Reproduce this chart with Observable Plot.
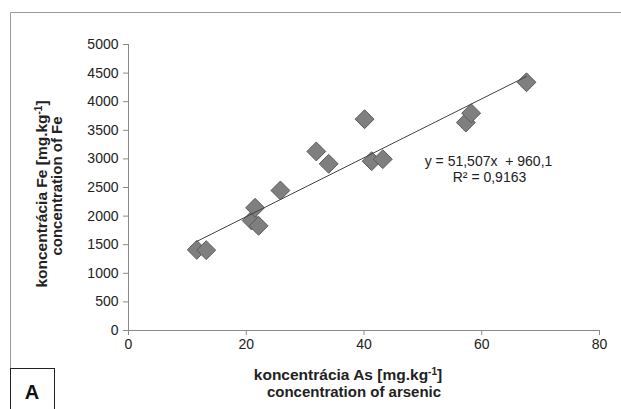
<!DOCTYPE html>
<html>
<head>
<meta charset="utf-8">
<script src="https://cdn.jsdelivr.net/npm/d3@7"></script>
<script src="https://cdn.jsdelivr.net/npm/@observablehq/plot@0.6"></script>
<style>
  html, body { margin: 0; padding: 0; background: #fff; }
  #chart { width: 621px; height: 409px; }
  svg { font-family: "Liberation Sans Narrow", "Arial Narrow", "Liberation Sans", Arial, sans-serif; }
</style>
</head>
<body>
<div id="chart"></div>
<script>
// Data
const arsenic = [11.6, 13.2, 20.9, 21.5, 22.1, 25.8, 31.9, 34.0, 40.1, 41.3, 43.2, 57.3, 58.2, 67.6];
const iron    = [1410, 1405, 1923, 2145, 1830, 2448, 3130, 2914, 3694, 2960, 2995, 3636, 3800, 4340];
const slope = 51.507;
const intercept = 960.1;
const xTicks = [0, 20, 40, 60, 80];
const yTicks = [0, 500, 1000, 1500, 2000, 2500, 3000, 3500, 4000, 4500, 5000];
const equationText = "y = 51,507x  + 960,1";
const r2Text = "R² = 0,9163";

const points = arsenic.map((a, i) => ({as: a, fe: iron[i]}));
const xMin = d3.min(arsenic), xMax = d3.max(arsenic);
const trend = [xMin, xMax].map(x => ({as: x, fe: slope * x + intercept}));

const W = 621, H = 409;
const chart = Plot.plot({
  width: W,
  height: H,
  marginLeft: 128,
  marginRight: 22,
  marginTop: 44,
  marginBottom: 79,
  style: {background: "#fff", fontSize: "13px", color: "#222"},
  x: {domain: [0, 80], ticks: xTicks, label: null},
  y: {domain: [0, 5000], ticks: yTicks, label: null},
  marks: [
    Plot.ruleY([0], {stroke: "#8a8a8a", strokeWidth: 1}),
    Plot.ruleX([0], {stroke: "#8a8a8a", strokeWidth: 1}),
    Plot.axisX({ticks: xTicks, tickSize: 5, tickPadding: 4, stroke: "#8a8a8a", fill: "#222", tickFormat: d => String(d), fontSize: 14}),
    Plot.axisY({ticks: yTicks, tickSize: 5, tickPadding: 5, stroke: "#8a8a8a", fill: "#222", tickFormat: d => String(d), fontSize: 14}),
    Plot.dot(points, {x: "as", y: "fe", symbol: "diamond2", r: 8.5, fill: "#7f7f7f", stroke: "#5a5a5a", strokeWidth: 1}),
    Plot.line(trend, {x: "as", y: "fe", stroke: "#444", strokeWidth: 1}),
    Plot.text([equationText], {frameAnchor: "top-left", dx: 360, dy: 112, fontSize: 14, fill: "#222", textAnchor: "middle"}),
    Plot.text([r2Text], {frameAnchor: "top-left", dx: 361, dy: 128, fontSize: 14, fill: "#222", textAnchor: "middle"})
  ]
});
document.getElementById("chart").appendChild(chart);

const svg = d3.select(chart);
// outer frame (left + top)
svg.append("path").attr("d", `M10.5,${H} V12.5 H${W}`).attr("fill", "none").attr("stroke", "#9a9a9a");
// "A" panel label box
svg.append("rect").attr("x", 10.5).attr("y", 368.5).attr("width", 44).attr("height", 45)
  .attr("fill", "#fff").attr("stroke", "#222").attr("stroke-width", 1);
svg.append("text").attr("x", 32).attr("y", 399).attr("text-anchor", "middle")
  .attr("font-family", "Liberation Sans, Arial, sans-serif").attr("font-weight", "bold").attr("font-size", 20).attr("fill", "#111").text("A");

// x axis title
const xt = svg.append("text").attr("x", 348).attr("y", 380).attr("text-anchor", "middle")
  .attr("font-weight", "bold").attr("font-size", 15.5).attr("fill", "#222");
xt.append("tspan").text("koncentrácia As [mg.kg");
xt.append("tspan").attr("dy", -5).attr("font-size", 10).text("-1");
xt.append("tspan").attr("dy", 5).text("]");
svg.append("text").attr("x", 354).attr("y", 397).attr("text-anchor", "middle")
  .attr("font-weight", "bold").attr("font-size", 15).attr("fill", "#222").text("concentration of arsenic");

// y axis title (rotated)
const yt = svg.append("text").attr("transform", "translate(47,194) rotate(-90)").attr("text-anchor", "middle")
  .attr("font-weight", "bold").attr("font-size", 15.5).attr("fill", "#222");
yt.append("tspan").text("koncentrácia Fe [mg.kg");
yt.append("tspan").attr("dy", -5).attr("font-size", 10).text("-1");
yt.append("tspan").attr("dy", 5).text("]");
svg.append("text").attr("transform", "translate(62,186) rotate(-90)").attr("text-anchor", "middle")
  .attr("font-weight", "bold").attr("font-size", 15).attr("fill", "#222").text("concentration of Fe");
</script>
</body>
</html>
